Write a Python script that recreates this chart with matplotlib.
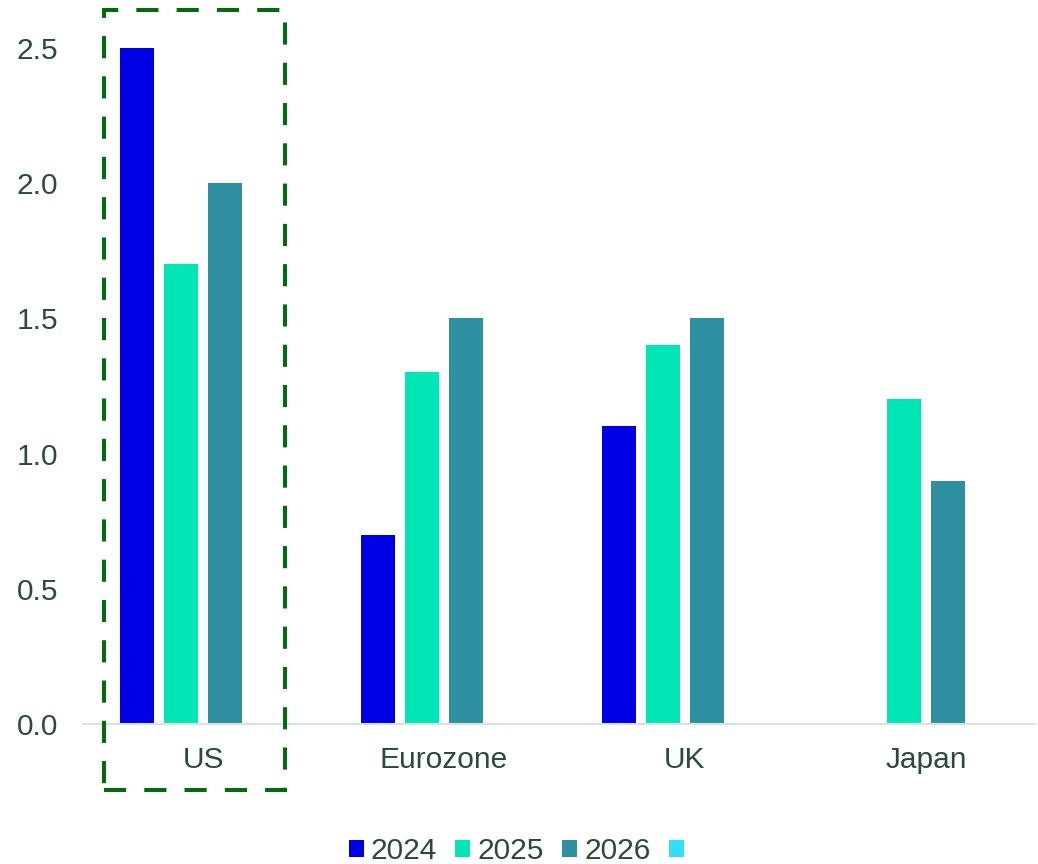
import matplotlib
matplotlib.use("Agg")
import numpy as np
import matplotlib.pyplot as plt
from matplotlib.patches import Rectangle

# Growth forecasts by region
regions = ["US", "Eurozone", "UK", "Japan"]
years = ["2024", "2025", "2026", " "]
vals_2024 = [2.5, 0.7, 1.1, 0.0]
vals_2025 = [1.7, 1.3, 1.4, 1.2]
vals_2026 = [2.0, 1.5, 1.5, 0.9]
vals_extra = [np.nan, np.nan, np.nan, np.nan]
colors = ["#0000E6", "#00E6B4", "#2E90A0", "#33DDFF"]

text_col = "#2B4A3E"
plt.rcParams["font.family"] = ["Liberation Sans", "DejaVu Sans"]

fig = plt.figure(figsize=(10.38, 8.64), dpi=100)
ax = fig.add_axes([0.080, 0.162, 0.917, 0.814])

x = np.arange(len(regions))
width = 0.141
step = 0.1826
series = [vals_2024, vals_2025, vals_2026, vals_extra]
for i, (vals, col, lab) in enumerate(zip(series, colors, years)):
    offs = (i - 1.5) * step
    ax.bar(x + offs, vals, width=width, color=col, label=lab)

ax.set_xlim(-0.498, 3.452)
ax.set_ylim(0, 2.6)
ax.set_yticks([0.0, 0.5, 1.0, 1.5, 2.0, 2.5])
ax.set_yticklabels(["0.0", "0.5", "1.0", "1.5", "2.0", "2.5"])
ax.set_xticks(x)
ax.set_xticklabels(regions)
ax.tick_params(axis="both", length=0, labelsize=21.5, colors=text_col)
ax.tick_params(axis="x", pad=16)
ax.tick_params(axis="y", pad=18)

for s in ["top", "right", "left"]:
    ax.spines[s].set_visible(False)
ax.spines["bottom"].set_color("#D6E4E0")
ax.spines["bottom"].set_linewidth(1.5)

# highlight box around the US group
box = Rectangle((-0.411, -0.244), 0.751, 2.884, fill=False,
                edgecolor="#006B0F", linewidth=2.9, linestyle=(0, (5.5, 4.5)),
                clip_on=False, zorder=5)
ax.add_patch(box)

leg = fig.legend(loc="center", bbox_to_anchor=(0.505, 0.015), ncol=4, frameon=False,
                 fontsize=21.5, handlelength=0.5, handleheight=0.5,
                 handletextpad=0.24, columnspacing=0.62, labelcolor=text_col)

fig.savefig("out.png", dpi=100)
